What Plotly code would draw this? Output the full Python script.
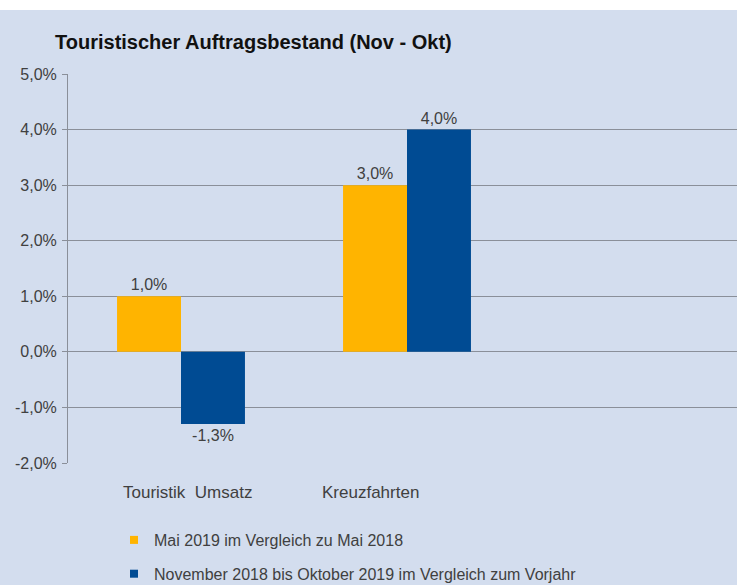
import plotly.graph_objects as go

categories = ["Touristik  Umsatz", "Kreuzfahrten"]
series_names = ["Mai 2019 im Vergleich zu Mai 2018",
                "November 2018 bis Oktober 2019 im Vergleich zum Vorjahr"]
mai_values = [0.010, 0.030]
nov_okt_values = [-0.013, 0.040]
y_ticks = [-0.02, -0.01, 0.0, 0.01, 0.02, 0.03, 0.04, 0.05]
label_shift = [6, -37]


def pct(v):
    return f"{v * 100:.1f}%".replace(".", ",")


W, H = 737, 585
ML, MR, MT, MB = 68, 0, 74, 122
PW, PH = W - ML - MR, H - MT - MB

BG = "#d3ddee"
ORANGE = "#FFB400"
BLUE = "#004B93"
TXT = "#404040"
FONT = "Liberation Sans, Arial, sans-serif"

fig = go.Figure()
for name, vals, col in [(series_names[0], mai_values, ORANGE),
                        (series_names[1], nov_okt_values, BLUE)]:
    fig.add_trace(go.Bar(
        x=categories, y=vals, name=name, marker=dict(color=col, line=dict(width=0)),
        text=[pct(v) for v in vals], texttemplate="%{text}",
        textposition="outside", cliponaxis=False,
        textfont=dict(size=16, color=TXT, family=FONT), showlegend=False,
    ))
# legend entries with small square symbols
for i, (name, col) in enumerate([(series_names[0], ORANGE), (series_names[1], BLUE)]):
    fig.add_trace(go.Scatter(
        x=[categories[0]], y=[None], mode="markers", name=name,
        marker=dict(symbol="square", size=8, color=col),
        legendgroup=f"g{i}", showlegend=True, hoverinfo="skip",
    ))

fig.add_shape(type="rect", xref="paper", yref="paper",
              x0=-ML / PW, x1=1.0, y0=-MB / PH, y1=1 + (MT - 10) / PH,
              fillcolor=BG, line=dict(width=0), layer="below")

for cat, dx in zip(categories, label_shift):
    fig.add_annotation(x=cat, xref="x", y=-29 / PH, yref="paper",
                       text=cat.replace("  ", "&nbsp; "), showarrow=False,
                       xshift=dx, yanchor="middle",
                       font=dict(size=17, color=TXT, family=FONT))

fig.update_layout(
    width=W, height=H,
    margin=dict(l=ML, r=MR, t=MT, b=MB, autoexpand=False),
    paper_bgcolor="white", plot_bgcolor=BG,
    barmode="group", bargap=0.434, bargroupgap=0,
    font=dict(family=FONT, size=16, color=TXT),
    title=dict(text="<b>Touristischer Auftragsbestand (Nov - Okt)</b>",
               x=55 / W, xanchor="left", xref="container",
               y=1 - 42 / H, yanchor="middle", yref="container",
               font=dict(size=20, color="#111111", family=FONT)),
    xaxis=dict(range=[-0.5, -0.5 + PW / 226], showgrid=False, zeroline=False,
               showticklabels=False, showline=False, automargin=False),
    yaxis=dict(range=[-0.02, 0.05], tickvals=y_ticks,
               ticktext=[pct(v) for v in y_ticks],
               gridcolor="#8a8f99", gridwidth=1, zeroline=False,
               showline=True, linecolor="#8a8f99", linewidth=1,
               ticks="outside", ticklen=5, tickcolor="#8a8f99",
               ticklabelstandoff=2,
               tickfont=dict(size=16, color=TXT), automargin=False),
    legend=dict(orientation="v", x=(114 - ML) / PW, xanchor="left",
                y=-60 / PH, yanchor="top", bgcolor="rgba(0,0,0,0)",
                font=dict(size=16, color=TXT), tracegroupgap=10,
                itemwidth=30),
    showlegend=True,
)

fig.write_html("out.html")
